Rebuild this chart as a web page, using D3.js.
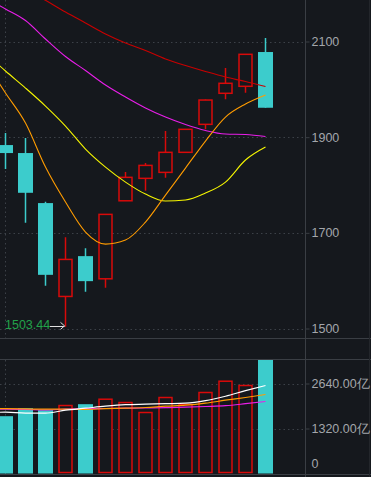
<!DOCTYPE html>
<html>
<head>
<meta charset="utf-8">
<script src="https://cdn.jsdelivr.net/npm/d3@7"></script>
<style>
  html, body { margin: 0; padding: 0; background: #15181d; }
  svg { display: block; }
  text { font-family: "Liberation Sans", Arial, sans-serif; font-size: 12px; }
</style>
</head>
<body>
<svg id="chart" width="371" height="477"></svg>
<script>
// ---- data ----
const openP  = [1883.5, 1866.8, 1762.2, 1567.0, 1651.3, 1603.9, 1767.0, 1813.9, 1826.4, 1868.3, 1926.8, 1991.7, 2006.3, 2078.0];
const closeP = [1866.8, 1783.7, 1612.2, 1644.4, 1599.0, 1738.6, 1816.0, 1841.0, 1868.3, 1916.4, 1977.6, 2012.6, 2073.2, 1961.5];
const highP  = [1908.6, 1898.2, 1765.0, 1691.0, 1668.0, 1738.6, 1827.0, 1845.9, 1912.8, 1916.4, 1979.0, 2044.6, 2073.2, 2107.3];
const lowP   = [1833.3, 1721.0, 1589.2, 1503.44, 1576.7, 1585.0, 1767.0, 1788.0, 1815.1, 1868.3, 1916.4, 1979.1, 1992.9, 1961.5];
const volume = [1681, 1915, 1857, 1994, 2033, 2179, 2082, 1789, 2229, 2024, 2376, 2707, 2581, 3344];

// price moving averages, first value belongs to the period just left of the view
const maRed     = [2260, 2234.9, 2209.8, 2186.2, 2161.7, 2138.7, 2115.7, 2096.9, 2081.2, 2063.4, 2049.8, 2037.3, 2025.7, 2016.3, 2005.9];
const maMagenta = [2191, 2168.0, 2143.9, 2105.2, 2068.6, 2039.3, 2009.0, 1983.9, 1961.0, 1942.0, 1926.4, 1913.9, 1906.5, 1905.5, 1901.3];
const maYellow  = [2076, 2038.3, 2002.7, 1965.1, 1923.3, 1875.2, 1837.5, 1806.1, 1781.0, 1766.4, 1768.5, 1783.1, 1806.1, 1852.2, 1879.3];
const maOrange  = [2057, 1992.3, 1929.5, 1837.5, 1764.3, 1701.6, 1676.4, 1684.8, 1722.5, 1778.9, 1835.4, 1891.9, 1942.1, 1969.3, 1988.1];

// volume moving averages
const vmaWhite   = [1790, 1798, 1769, 1769, 1857, 1915, 1974, 2018, 2033, 2047, 2062, 2135, 2267, 2429, 2581];
const vmaOrange  = [1901, 1901, 1895, 1886, 1886, 1880, 1901, 1915, 1936, 1974, 2003, 2062, 2150, 2229, 2317];
const vmaMagenta = [1880, 1886, 1877, 1865, 1886, 1901, 1907, 1915, 1921, 1930, 1945, 1965, 1989, 2047, 2112];

const priceTicks = [1500, 1700, 1900, 2100];
const volTicks = [0, 1320, 2640];
const volLabels = ['0', '1320.00亿', '2640.00亿'];
const lowLabel = '1503.44';

// ---- layout ----
const W = 371, H = 477;
const axisX = 305.5;
const priceTop = 0, priceBottom = 338;
const volTop = 359.5, volBottom = 474;

const bg = '#15181d', border = '#3a3e44', grid = '#3c4148', label = '#a3a6ab';
const up = '#d80a0a', down = '#3ccccc';

const svg = d3.select('#chart');
svg.append('rect').attr('width', W).attr('height', H).attr('fill', bg);

const x = d3.scaleLinear().domain([0, 13]).range([5.5, 265.5]);
const y = d3.scaleLinear().domain([1500, 2100]).range([328.5, 41.5]);
const yv = d3.scaleLinear().domain([0, 2640]).range([473.5, 383.5]);

const defs = svg.append('defs');
defs.append('clipPath').attr('id', 'clipP').append('rect')
  .attr('x', 0).attr('y', priceTop).attr('width', axisX).attr('height', priceBottom - priceTop);
defs.append('clipPath').attr('id', 'clipV').append('rect')
  .attr('x', 0).attr('y', volTop).attr('width', axisX).attr('height', volBottom - volTop);

// grid
const gP = svg.append('g').attr('clip-path', 'url(#clipP)');
const gV = svg.append('g').attr('clip-path', 'url(#clipV)');

gP.selectAll('line.grid').data(priceTicks).join('line')
  .attr('x1', 0).attr('x2', axisX)
  .attr('y1', d => Math.round(y(d)) + 0.5).attr('y2', d => Math.round(y(d)) + 0.5)
  .attr('stroke', grid).attr('stroke-dasharray', '1.5,3');
gV.selectAll('line.grid').data(volTicks.slice(1)).join('line')
  .attr('x1', 0).attr('x2', axisX)
  .attr('y1', d => Math.round(yv(d)) + 0.5).attr('y2', d => Math.round(yv(d)) + 0.5)
  .attr('stroke', grid).attr('stroke-dasharray', '1.5,3');
[gP, gV].forEach(g => g.append('line')
  .attr('x1', 5.5).attr('x2', 5.5).attr('y1', 0).attr('y2', H)
  .attr('stroke', grid).attr('stroke-dasharray', '1.5,3'));

// candles
const idx = d3.range(openP.length);
const cg = gP.selectAll('g.candle').data(idx).join('g');
cg.append('line')
  .attr('x1', i => Math.round(x(i)) - 0.5).attr('x2', i => Math.round(x(i)) - 0.5)
  .attr('y1', i => y(highP[i])).attr('y2', i => y(lowP[i]))
  .attr('stroke', i => closeP[i] >= openP[i] ? up : down).attr('stroke-width', 1.5);
cg.append('rect')
  .attr('x', i => closeP[i] >= openP[i] ? x(i) - 6.5 : x(i) - 7.5)
  .attr('width', i => closeP[i] >= openP[i] ? 13 : 15)
  .attr('y', i => y(Math.max(openP[i], closeP[i])))
  .attr('height', i => Math.max(1, Math.abs(y(openP[i]) - y(closeP[i]))))
  .attr('fill', i => closeP[i] >= openP[i] ? bg : down)
  .attr('stroke', i => closeP[i] >= openP[i] ? up : 'none')
  .attr('stroke-width', 1.5);

// price MAs
const maLine = d3.line().x((d, i) => x(i - 1)).y(d => y(d)).curve(d3.curveMonotoneX);
[[maRed, '#c80000'], [maMagenta, '#e81ee8'], [maYellow, '#f5f500'], [maOrange, '#ff9c00']]
  .forEach(([arr, c]) => gP.append('path').attr('d', maLine(arr))
    .attr('fill', 'none').attr('stroke', c).attr('stroke-width', 1.1));

// lowest price marker
const li = lowP.indexOf(d3.min(lowP));
gP.append('text').attr('x', 5).attr('y', y(lowP[li]) - 1)
  .attr('dominant-baseline', 'middle').attr('fill', '#22a24a').style('font-size', '12.5px').text(lowLabel);
gP.append('line').attr('x1', 50).attr('x2', x(li) - 1)
  .attr('y1', Math.round(y(lowP[li])) - 0.5).attr('y2', Math.round(y(lowP[li])) - 0.5)
  .attr('stroke', '#e0e0e0').attr('stroke-width', 1);
gP.append('path')
  .attr('d', `M${x(li) - 5},${y(lowP[li]) - 4.5} L${x(li) - 1},${y(lowP[li]) - 1} L${x(li) - 5},${y(lowP[li]) + 2.5}`)
  .attr('fill', 'none').attr('stroke', '#e0e0e0').attr('stroke-width', 1);

// volume bars
gV.selectAll('rect.vol').data(idx).join('rect')
  .attr('x', i => closeP[i] >= openP[i] ? x(i) - 6.5 : x(i) - 7.5)
  .attr('width', i => closeP[i] >= openP[i] ? 13 : 15)
  .attr('y', i => yv(volume[i]))
  .attr('height', i => yv(0) - yv(volume[i]) - (closeP[i] >= openP[i] ? 1 : 0))
  .attr('fill', i => closeP[i] >= openP[i] ? bg : down)
  .attr('stroke', i => closeP[i] >= openP[i] ? up : 'none')
  .attr('stroke-width', 1.5);

const vLine = d3.line().x((d, i) => x(i - 1)).y(d => yv(d)).curve(d3.curveMonotoneX);
[[vmaMagenta, '#e81ee8'], [vmaOrange, '#ff9c00'], [vmaWhite, '#ffffff']]
  .forEach(([arr, c]) => gV.append('path').attr('d', vLine(arr))
    .attr('fill', 'none').attr('stroke', c).attr('stroke-width', 1.2));

// panel borders
svg.append('line').attr('x1', 0).attr('x2', W).attr('y1', priceBottom + 0.5).attr('y2', priceBottom + 0.5).attr('stroke', border);
svg.append('line').attr('x1', 0).attr('x2', W).attr('y1', volTop).attr('y2', volTop).attr('stroke', border);
svg.append('line').attr('x1', 0).attr('x2', W).attr('y1', volBottom + 0.5).attr('y2', volBottom + 0.5).attr('stroke', border);
svg.append('line').attr('x1', axisX).attr('x2', axisX).attr('y1', 0).attr('y2', H).attr('stroke', border);
svg.append('line').attr('x1', 369.5).attr('x2', 369.5).attr('y1', 0).attr('y2', H).attr('stroke', '#23262b');

// axes
const axP = svg.append('g').attr('transform', `translate(${axisX},0)`)
  .call(d3.axisRight(y).tickValues(priceTicks).tickSize(4).tickPadding(2).tickFormat(d3.format('d')));
const axV = svg.append('g').attr('transform', `translate(${axisX},0)`)
  .call(d3.axisRight(yv).tickValues(volTicks).tickSize(4).tickPadding(2).tickFormat((d, i) => volLabels[i]));
[axP, axV].forEach(a => {
  a.select('.domain').remove();
  a.selectAll('.tick line').attr('stroke', border);
  a.selectAll('.tick text').attr('fill', label)
    .style('font-family', '"Liberation Sans", Arial, sans-serif').style('font-size', '12.5px');
});
axV.selectAll('.tick').filter(d => d === 0).select('line').remove();
axV.selectAll('.tick').filter(d => d === 0).attr('transform', `translate(0,${yv(0) - 10})`)
  .select('text').attr('x', 6);
</script>
</body>
</html>
